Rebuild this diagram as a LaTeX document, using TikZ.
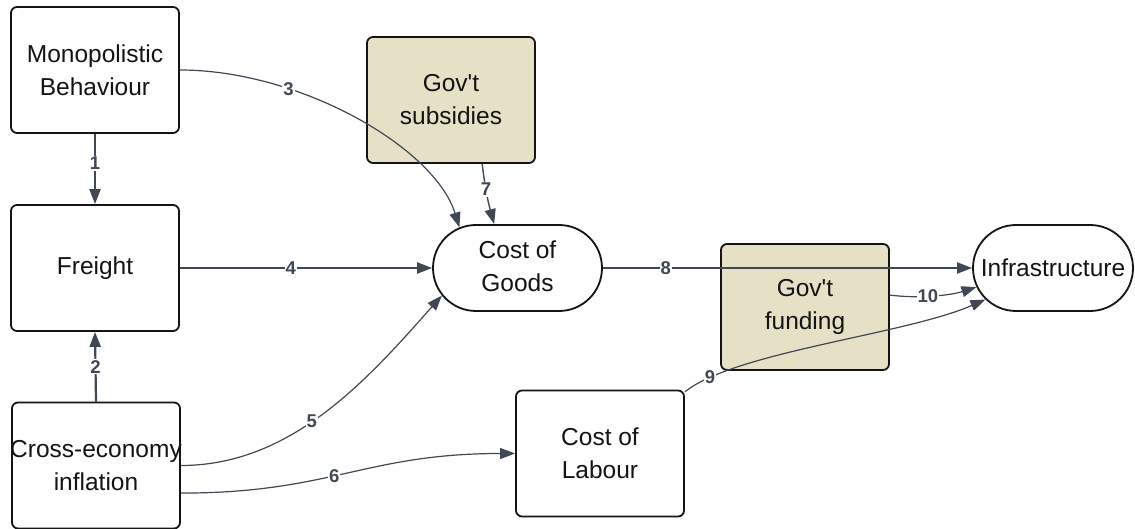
\documentclass[tikz,border=0pt]{standalone}
\usepackage{fontspec}
\setmainfont{Liberation Sans}
\usetikzlibrary{arrows.meta,shapes.misc}
\definecolor{edgecol}{HTML}{404854}
\definecolor{govfill}{HTML}{E6E0C7}
\definecolor{inkcol}{HTML}{141414}
\newcommand{\twolines}[2]{\makebox[0pt][c]{\begin{tabular}{@{}c@{}}#1\\#2\end{tabular}}}
\begin{document}
\begin{tikzpicture}[x=1pt,y=-1pt,
  nodefont/.style={font=\fontsize{24.5}{33}\selectfont},
  box/.style={draw=inkcol, line width=1.8pt, rounded corners=6pt, fill=white,
    minimum width=168pt, minimum height=126pt, inner sep=0pt, align=center,
    text=inkcol, nodefont},
  govbox/.style={box, fill=govfill},
  stadium/.style={rounded rectangle, draw=inkcol, line width=1.8pt, fill=white,
    minimum width=169pt, minimum height=86pt, inner sep=0pt,
    text=inkcol, nodefont},
  link/.style={draw=edgecol, line width=1.2pt, -{Triangle[length=15pt,width=11pt]}},
  heavy/.style={link, line width=2.2pt},
  num/.style={fill=white, inner sep=1pt, text=edgecol,
    font=\fontsize{18.5}{18.5}\selectfont\bfseries}
]
\useasboundingbox (0,0) rectangle (1135,529);

% boxes
\node[box] (mono) at (95,70) {Monopolistic\\Behaviour};
\node[box] (frt) at (95,268) {Freight};
\node[box] (cross) at (96,465.5) {\makebox[150pt][c]{Cross-economy}\\inflation};
\node[govbox] (subs) at (451,100) {Gov\textquotesingle t\\subsidies};
\node[stadium] (cog) at (517.5,268) {\twolines{Cost of}{Goods}};
\node[govbox] (fund) at (805,307) {Gov\textquotesingle t\\funding};
\node[stadium, minimum width=160pt] (infra) at (1053,268) {\makebox[0pt][c]{Infrastructure}};
\node[box] (col) at (600,453.5) {Cost of\\Labour};

% links
\draw[heavy] (mono.south) -- node[num, pos=0.42]{1} (frt.north);
\draw[heavy] (cross.north) -- node[num]{2} (frt.south);
\draw[link] (mono.east) .. controls +(120,0) and +(-25,-80) .. node[num, pos=0.3]{3} (cog.145);
\draw[heavy] (frt.east) -- node[num, pos=0.44]{4} (cog.west);
\draw[link] (cross.east) .. controls +(110,0) and +(-75,85) .. node[num, pos=0.45]{5} (cog.200);
\draw[link] (cross.-18) .. controls +(150,0) and +(-150,0) .. node[num, pos=0.45]{6} (col.west);
\draw[link, line width=1.4pt] (subs.-64.5) .. controls +(3,25) and +(-6,-22) .. node[num, pos=0.4]{7} (cog.118.6);
\draw[heavy] (cog.east) -- node[num, pos=0.17]{8} (infra.west);
\draw[link] (col.36) .. controls +(50,-40) and +(-80,35) .. node[num, pos=0.13]{9} (infra.205);
\draw[link] (fund.8.8) .. controls +(30,4) and +(-25,8) .. node[num, pos=0.42]{10} (infra.194);
\end{tikzpicture}
\end{document}
